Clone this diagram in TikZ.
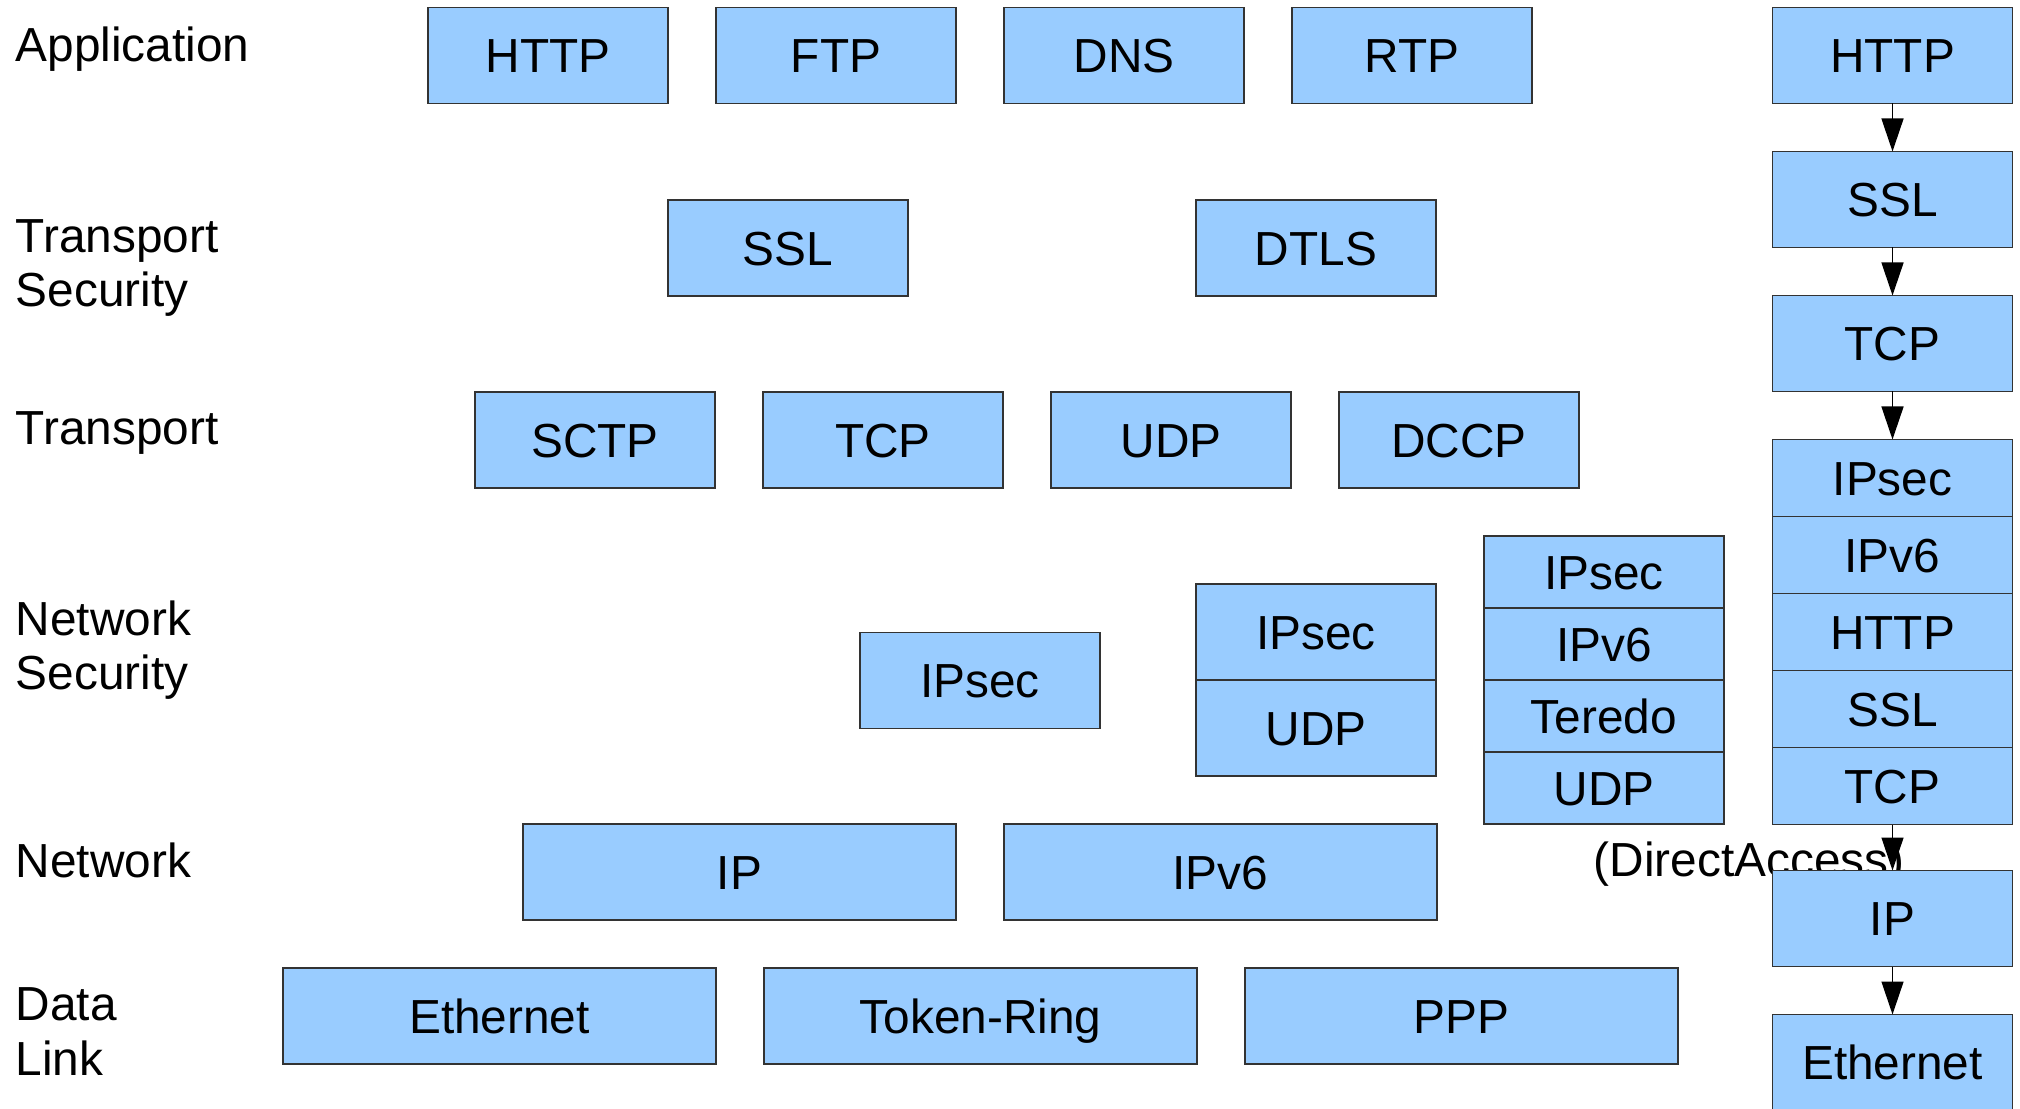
\documentclass[tikz,border=0pt]{standalone}
\usepackage{fontspec}
\setmainfont{Liberation Sans}
\usetikzlibrary{positioning,arrows.meta}
\definecolor{protoblue}{HTML}{99CCFF}
\definecolor{protoline}{HTML}{333333}
\tikzstyle{every node}=[font=\fontsize{13.6}{15.4}\selectfont,node distance=0.48cm]
\tikzstyle{proto} = [rectangle,draw=protoline,fill=protoblue,line width=0.4pt,minimum width=2.4cm,minimum height=0.96cm,inner sep=0pt,outer sep=0pt,text height=0.343cm,text depth=0pt]
\tikzstyle{wideproto} = [proto,minimum width=4.33cm]
\tikzstyle{slice} = [proto,minimum height=0.77cm]
\tikzstyle{thinslice} = [proto,minimum height=0.72cm]
\tikzstyle{layer} = [anchor=base west,align=left,inner sep=0pt]
\tikzstyle{note} = [anchor=base,inner sep=0pt]
\tikzstyle{arrow} = [line width=0.4pt,-{Triangle[length=0.33cm,width=0.22cm]}]

\begin{document}
\begin{tikzpicture}
\useasboundingbox (0,0) rectangle (20.2,-11.09);

% layer names (base = last line)
\node (application) [layer] at (0.15,-0.62) {Application};
\node (transsec) [layer] at (0.15,-3.07) {Transport\\Security};
\node (transport) [layer] at (0.15,-4.45) {Transport};
\node (netsec) [layer] at (0.15,-6.90) {Network\\Security};
\node (network) [layer] at (0.15,-8.77) {Network};
\node (datalink) [layer] at (0.15,-10.75) {Data\\Link};

% application
\node (http) [proto] at (5.48,-0.555) {HTTP};
\node (ftp) [proto, right=of http] {FTP};
\node (dns) [proto, right=of ftp] {DNS};
\node (rtp) [proto, right=of dns] {RTP};

% transport security
\node (ssl) [proto] at (7.88,-2.48) {SSL};
\node (dtls) [proto, right=2.88cm of ssl] {DTLS};

% transport
\node (sctp) [proto] at (5.95,-4.40) {SCTP};
\node (tcp) [proto, right=of sctp] {TCP};
\node (udp) [proto, right=of tcp] {UDP};
\node (dccp) [proto, right=of udp] {DCCP};

% network security
\node (ipsec) [proto] at (9.80,-6.805) {IPsec};
\node (ipsecudp) [proto] at (13.16,-6.32) {IPsec};
\node (udpipsec) [proto, below=0cm of ipsecudp] {UDP};
\node (teredoipsec) [thinslice] at (16.04,-5.72) {IPsec};
\node (teredoipv6) [thinslice, below=0cm of teredoipsec] {IPv6};
\node (teredo) [thinslice, below=0cm of teredoipv6] {Teredo};
\node (teredoudp) [thinslice, below=0cm of teredo] {UDP};

% network
\node (ip) [wideproto] at (7.395,-8.72) {IP};
\node (ipv6) [wideproto, right=of ip] {IPv6};

% data link
\node (ethernet) [wideproto] at (4.995,-10.16) {Ethernet};
\node (tokenring) [wideproto, right=of ethernet] {Token-Ring};
\node (ppp) [wideproto, right=of tokenring] {PPP};

% DirectAccess stack, IP box covers the label
\node (directaccess) [note] at (17.49,-8.76) {(DirectAccess)};
\node (dahttp) [proto] at (18.925,-0.555) {HTTP};
\node (dassl) [proto, below=of dahttp] {SSL};
\node (datcp) [proto, below=of dassl] {TCP};
\node (daipsec) [slice, below=of datcp] {IPsec};
\node (daipv6) [slice, below=0cm of daipsec] {IPv6};
\node (dahttpin) [slice, below=0cm of daipv6] {HTTP};
\node (dasslin) [slice, below=0cm of dahttpin] {SSL};
\node (datcpin) [slice, below=0cm of dasslin] {TCP};
\node (daip) [proto, below=0.46cm of datcpin] {IP};
\node (daethernet) [proto, below=of daip] {Ethernet};

\draw [arrow] (dahttp) -- (dassl);
\draw [arrow] (dassl) -- (datcp);
\draw [arrow] (datcp) -- (daipsec);
\draw [arrow] (datcpin) -- (daip);
\draw [arrow] (daip) -- (daethernet);

\end{tikzpicture}
\end{document}
